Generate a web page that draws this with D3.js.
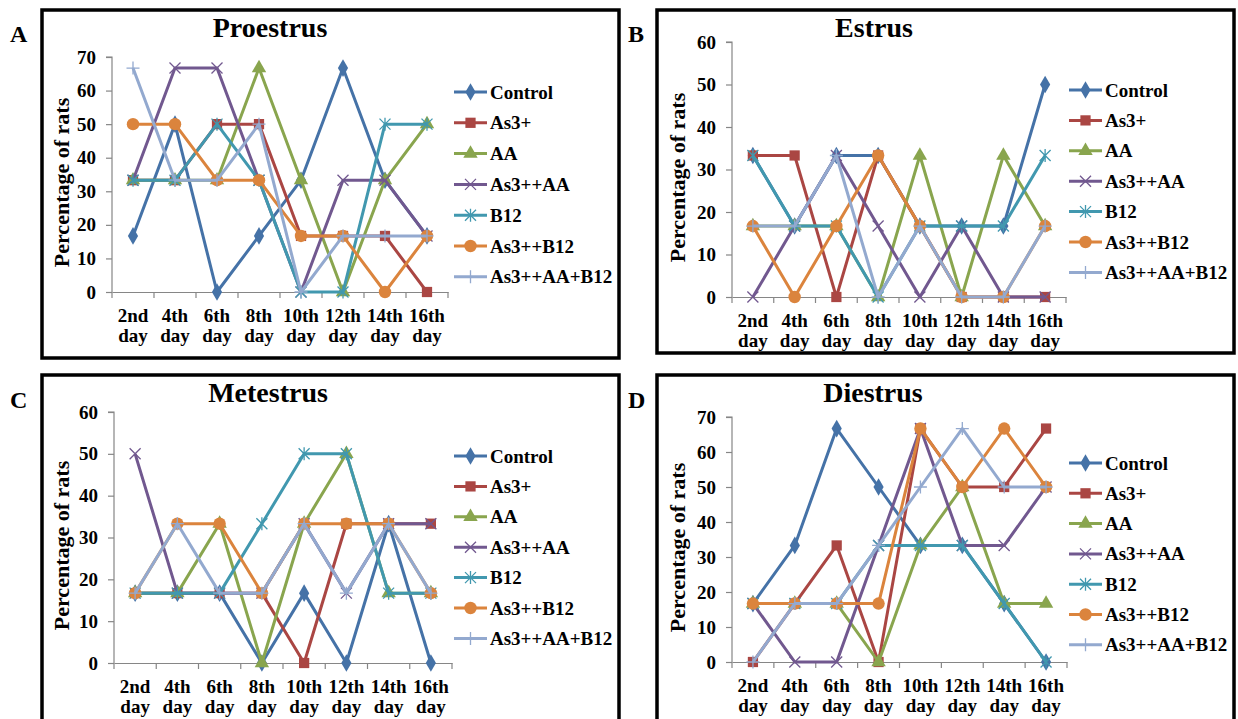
<!DOCTYPE html>
<html>
<head>
<meta charset="utf-8">
<script src="https://cdn.jsdelivr.net/npm/d3@7"></script>
<style>
  body { margin: 0; background: #fff; }
  svg { display: block; }
  svg text { font-family: "Times New Roman", "Liberation Serif", "DejaVu Serif", serif !important; font-weight: bold; fill: #000; }
</style>
</head>
<body>
<svg id="chart" width="1238" height="719"></svg>
<script>
// categories
const days = ["2nd", "4th", "6th", "8th", "10th", "12th", "14th", "16th"];
const groups = ["Control", "As3+", "AA", "As3++AA", "B12", "As3++B12", "As3++AA+B12"];
const colors = ["#4572A7", "#AA4643", "#89A54E", "#71588F", "#4198AF", "#DB843D", "#93A9CF"];
const markers = ["diamond", "square", "triangle", "cross", "star", "circle", "plus"];

// percentage of rats, one row per group
const proestrus = [
  [16.7, 50, 0, 16.7, 33.3, 66.7, 33.3, 16.7],
  [33.3, 33.3, 50, 50, 16.7, 16.7, 16.7, 0],
  [33.3, 33.3, 33.3, 66.7, 33.3, 0, 33.3, 50],
  [33.3, 66.7, 66.7, 33.3, 0, 33.3, 33.3, 16.7],
  [33.3, 33.3, 50, 33.3, 0, 0, 50, 50],
  [50, 50, 33.3, 33.3, 16.7, 16.7, 0, 16.7],
  [66.7, 33.3, 33.3, 50, 0, 16.7, 16.7, 16.7]
];
const estrus = [
  [33.3, 16.7, 33.3, 33.3, 16.7, 16.7, 16.7, 50],
  [33.3, 33.3, 0, 33.3, 16.7, 0, 0, 0],
  [16.7, 16.7, 16.7, 0, 33.3, 0, 33.3, 16.7],
  [0, 16.7, 33.3, 16.7, 0, 16.7, 0, 0],
  [33.3, 16.7, 16.7, 0, 16.7, 16.7, 16.7, 33.3],
  [16.7, 0, 16.7, 33.3, 16.7, 0, 0, 16.7],
  [16.7, 16.7, 33.3, 0, 16.7, 0, 0, 16.7]
];
const metestrus = [
  [16.7, 16.7, 16.7, 0, 16.7, 0, 33.3, 0],
  [16.7, 16.7, 16.7, 16.7, 0, 33.3, 33.3, 33.3],
  [16.7, 16.7, 33.3, 0, 33.3, 50, 16.7, 16.7],
  [50, 16.7, 16.7, 16.7, 33.3, 16.7, 33.3, 33.3],
  [16.7, 16.7, 16.7, 33.3, 50, 50, 16.7, 16.7],
  [16.7, 33.3, 33.3, 16.7, 33.3, 33.3, 33.3, 16.7],
  [16.7, 33.3, 16.7, 16.7, 33.3, 16.7, 33.3, 16.7]
];
const diestrus = [
  [16.7, 33.3, 66.7, 50, 33.3, 33.3, 16.7, 0],
  [0, 16.7, 33.3, 0, 66.7, 50, 50, 66.7],
  [16.7, 16.7, 16.7, 0, 33.3, 50, 16.7, 16.7],
  [16.7, 0, 0, 33.3, 66.7, 33.3, 33.3, 50],
  [16.7, 16.7, 16.7, 33.3, 33.3, 33.3, 16.7, 0],
  [16.7, 16.7, 16.7, 16.7, 66.7, 50, 66.7, 50],
  [0, 16.7, 16.7, 33.3, 50, 66.7, 50, 50]
];

const panels = [
  {letter: "A", title: "Proestrus", data: proestrus, max: 70,
   box: [42, 10, 619, 358], lx: 10, ly: 42, tx: 270, ty: 37,
   x0: 112, x1: 448, yTop: 57, yBot: 292, legX: 454, legY: 92, legDy: 30.8, labX: 62},
  {letter: "B", title: "Estrus", data: estrus, max: 60,
   box: [657, 10, 1234, 353], lx: 628, ly: 42, tx: 874, ty: 37,
   x0: 732, x1: 1066, yTop: 42, yBot: 297, legX: 1069, legY: 90, legDy: 30.4, labX: 678},
  {letter: "C", title: "Metestrus", data: metestrus, max: 60,
   box: [42, 375, 619, 730], lx: 10, ly: 408, tx: 268, ty: 402,
   x0: 114, x1: 452, yTop: 412, yBot: 663, legX: 454, legY: 456, legDy: 30.4, labX: 62},
  {letter: "D", title: "Diestrus", data: diestrus, max: 70,
   box: [657, 375, 1234, 730], lx: 628, ly: 408, tx: 873, ty: 402,
   x0: 732, x1: 1067, yTop: 417, yBot: 662, legX: 1069, legY: 463, legDy: 30.3, labX: 678}
];

const svg = d3.select("#chart");

function drawMarker(g, type, color) {
  if (type === "diamond") {
    g.append("path").attr("d", d3.symbol(d3.symbolDiamond, 90)()).attr("fill", color);
  } else if (type === "square") {
    g.append("path").attr("d", d3.symbol(d3.symbolSquare, 105)()).attr("fill", color);
  } else if (type === "triangle") {
    g.append("path").attr("d", d3.symbol(d3.symbolTriangle, 90)()).attr("fill", color);
  } else if (type === "circle") {
    g.append("circle").attr("r", 6.2).attr("fill", color);
  } else {
    var r = 5.5;
    var d = "";
    if (type === "cross" || type === "star") {
      d += "M" + (-r) + "," + (-r) + "L" + r + "," + r + "M" + (-r) + "," + r + "L" + r + "," + (-r);
    }
    if (type === "star") d += "M0," + (-r - 1) + "L0," + (r + 1);
    if (type === "plus") d += "M" + (-r - 1) + ",0L" + (r + 1) + ",0M0," + (-r - 1) + "L0," + (r + 1);
    g.append("path").attr("d", d).attr("stroke", color).attr("stroke-width", 1.3).attr("fill", "none");
  }
}

panels.forEach(function(p) {
  var g = svg.append("g");

  g.append("rect")
    .attr("x", p.box[0]).attr("y", p.box[1])
    .attr("width", p.box[2] - p.box[0]).attr("height", p.box[3] - p.box[1])
    .attr("fill", "none").attr("stroke", "#000").attr("stroke-width", 3.5);

  g.append("text").attr("x", p.lx).attr("y", p.ly)
    .style("font-size", "24px").text(p.letter);

  g.append("text").attr("x", p.tx).attr("y", p.ty)
    .attr("text-anchor", "middle").style("font-size", "28px").text(p.title);

  var x = d3.scaleBand().domain(days).range([p.x0, p.x1]);
  var y = d3.scaleLinear().domain([0, p.max]).range([p.yBot, p.yTop]);

  // y axis
  var yAxis = g.append("g").attr("transform", "translate(" + p.x0 + ",0)")
    .call(d3.axisLeft(y).ticks(p.max / 10).tickSize(6).tickPadding(10));
  // x axis, ticks at category boundaries
  var xAxis = g.append("g").attr("transform", "translate(0," + p.yBot + ")")
    .call(d3.axisBottom(x).tickSize(0).tickFormat(""));
  xAxis.selectAll(".bound").data(d3.range(days.length + 1)).enter()
    .append("line").attr("class", "bound")
    .attr("x1", function(i) { return p.x0 + i * x.step(); })
    .attr("x2", function(i) { return p.x0 + i * x.step(); })
    .attr("y1", 0).attr("y2", 6);
  [yAxis, xAxis].forEach(function(a) {
    a.attr("font-family", null);
    a.select(".domain").attr("stroke", "#868686").attr("stroke-width", 1.2);
    a.selectAll("line").attr("stroke", "#868686").attr("stroke-width", 1.2);
    a.selectAll("text").style("font-size", "19px").attr("fill", "#000");
  });
  yAxis.select(".domain").attr("d", "M0," + p.yBot + "V" + p.yTop + "H-6");

  // two line category labels
  days.forEach(function(dname) {
    var cx = x(dname) + x.bandwidth() / 2;
    g.append("text").attr("x", cx).attr("y", p.yBot + 30)
      .attr("text-anchor", "middle").style("font-size", "19px").text(dname);
    g.append("text").attr("x", cx).attr("y", p.yBot + 50)
      .attr("text-anchor", "middle").style("font-size", "19px").text("day");
  });

  // axis title
  g.append("text")
    .attr("transform", "translate(" + (p.labX + 7) + "," + ((p.yTop + p.yBot) / 2 + 8) + ") rotate(-90)")
    .attr("text-anchor", "middle").style("font-size", "22px").text("Percentage of rats");

  var line = d3.line()
    .x(function(v, i) { return x(days[i]) + x.bandwidth() / 2; })
    .y(function(v) { return y(v); });

  p.data.forEach(function(vals, s) {
    g.append("path").attr("d", line(vals))
      .attr("fill", "none").attr("stroke", colors[s]).attr("stroke-width", 3)
      .attr("stroke-linejoin", "round");
    vals.forEach(function(v, i) {
      var mg = g.append("g")
        .attr("transform", "translate(" + (x(days[i]) + x.bandwidth() / 2) + "," + y(v) + ")");
      drawMarker(mg, markers[s], colors[s]);
    });
  });

  // legend
  groups.forEach(function(name, s) {
    var ly = p.legY + s * p.legDy;
    g.append("line").attr("x1", p.legX).attr("x2", p.legX + 33)
      .attr("y1", ly).attr("y2", ly)
      .attr("stroke", colors[s]).attr("stroke-width", 3);
    var mg = g.append("g").attr("transform", "translate(" + (p.legX + 16.5) + "," + ly + ")");
    drawMarker(mg, markers[s], colors[s]);
    g.append("text").attr("x", p.legX + 36).attr("y", ly + 6.5)
      .style("font-size", "19px").text(name);
  });
});
</script>
</body>
</html>
